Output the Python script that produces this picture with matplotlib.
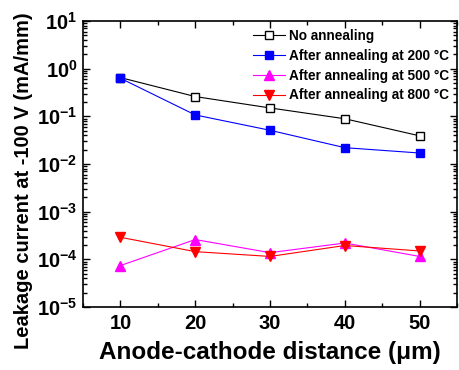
import matplotlib
matplotlib.use('Agg')
import matplotlib.pyplot as plt
from matplotlib.ticker import LogLocator, NullFormatter, MultipleLocator

plt.rcParams['font.family'] = ['Liberation Sans', 'DejaVu Sans']
plt.rcParams['font.weight'] = 'bold'
plt.rcParams['mathtext.fontset'] = 'custom'
plt.rcParams['mathtext.rm'] = 'Liberation Sans:bold'
plt.rcParams['mathtext.bf'] = 'Liberation Sans:bold'
plt.rcParams['mathtext.default'] = 'bf'

distance = [10, 20, 30, 40, 50]
no_anneal = [0.65, 0.26, 0.15, 0.089, 0.039]
anneal_200 = [0.63, 0.107, 0.051, 0.022, 0.017]
anneal_500 = [7.4e-5, 2.6e-4, 1.38e-4, 2.2e-4, 1.15e-4]
anneal_800 = [2.9e-4, 1.45e-4, 1.15e-4, 1.95e-4, 1.5e-4]

fig = plt.figure(figsize=(4.59, 3.70), dpi=100)
ax = fig.add_axes([83 / 459, 1 - 307 / 370, (457 - 83) / 459, (307 - 21) / 370])

ax.plot(distance, no_anneal, color='black', lw=0.8, marker='s', ms=5.5,
        mfc='white', mec='black', label='No annealing')
ax.plot(distance, anneal_200, color='blue', lw=0.8, marker='s', ms=5.5,
        mfc='blue', mec='blue', label='After annealing at 200 \u00b0C')
ax.plot(distance, anneal_500, color='magenta', lw=0.8, marker='^', ms=7,
        mfc='magenta', mec='magenta', label='After annealing at 500 \u00b0C')
ax.plot(distance, anneal_800, color='red', lw=0.8, marker='v', ms=7,
        mfc='red', mec='red', label='After annealing at 800 \u00b0C')

ax.set_yscale('log')
ax.set_ylim(1e-5, 10)
ax.set_xlim(5, 55)
ax.xaxis.set_major_locator(MultipleLocator(10))
ax.xaxis.set_minor_locator(MultipleLocator(5))
ax.yaxis.set_major_locator(LogLocator(base=10, numticks=10))
ax.yaxis.set_minor_locator(LogLocator(base=10, subs=range(2, 10), numticks=20))
ax.yaxis.set_minor_formatter(NullFormatter())

ax.tick_params(which='both', direction='in', top=True, right=True, width=1.0)
ax.tick_params(which='major', length=5, labelsize=14.5)
ax.tick_params(which='minor', length=3)
ax.tick_params(axis='x', pad=5)
ax.tick_params(axis='y', pad=4)
for s in ax.spines.values():
    s.set_linewidth(1.2)

ax.set_xlabel('Anode-cathode distance (\u03bcm)', fontsize=17.5, fontweight='bold',
              labelpad=6)
ax.set_ylabel('Leakage current at -100 V (mA/mm)', fontsize=14.5, fontweight='bold')
ax.yaxis.set_label_coords(-0.135, 0.44)

ax.legend(loc='upper right', bbox_to_anchor=(1.0, 1.0), frameon=False,
          fontsize=9.8, handlelength=2.3, handletextpad=0.3, labelspacing=0.42,
          borderaxespad=0.2)

fig.savefig('out.png', dpi=100)
